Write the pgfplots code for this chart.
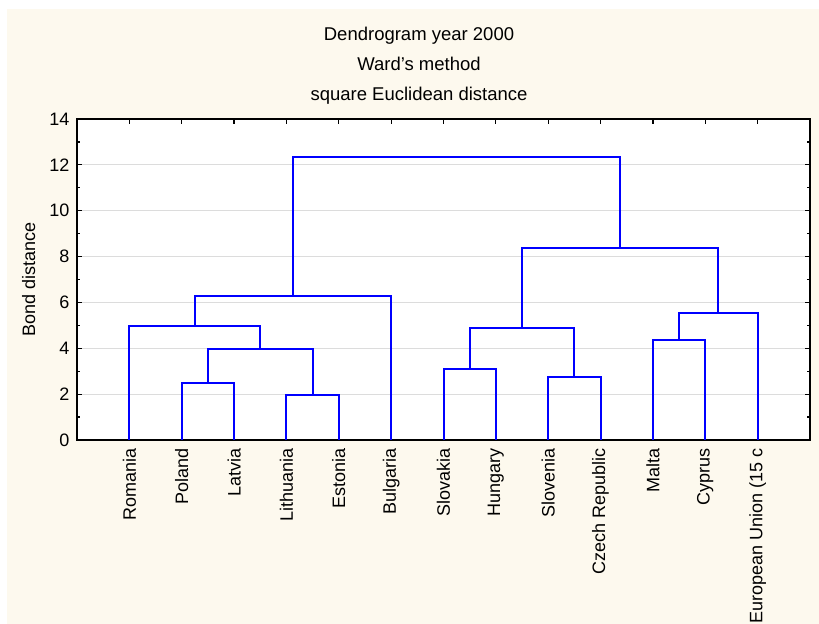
\documentclass[border=0pt]{standalone}
\usepackage{fontspec}
\setmainfont{Liberation Sans}
\usepackage{pgfplots}
\pgfplotsset{compat=1.18}

\definecolor{panel}{RGB}{253,249,238}
\definecolor{gridgray}{RGB}{220,220,220}
\definecolor{dendro}{RGB}{0,0,255}

\begin{document}
\begin{tikzpicture}[font=\fontsize{18bp}{21.6bp}\selectfont]
% cream panel behind the chart
\fill[panel] (-70bp,-184bp) rectangle (742bp,431bp);

\begin{axis}[
    at={(0,0)}, anchor=south west,
    scale only axis,
    width=733bp, height=321bp,
    xmin=0, xmax=14,
    ymin=0, ymax=14,
    axis background/.style={fill=white},
    axis line style={black, line width=1.5bp},
    xtick={1,...,13},
    xticklabels={Romania, Poland, Latvia, Lithuania, Estonia, Bulgaria,
        Slovakia, Hungary, Slovenia, Czech Republic, Malta, Cyprus,
        European Union (15 c},
    xticklabel style={rotate=90, anchor=east, inner xsep=8bp, inner ysep=0pt},
    ytick={0,2,...,14},
    minor y tick num=1,
    yticklabel style={xshift=-4bp},
    tick align=inside,
    major tick length=5bp,
    minor tick length=3bp,
    tick style={black, line width=1.2bp},
    ymajorgrids,
    grid style={gridgray, line width=1bp},
    ylabel={Bond distance},
    ylabel style={at={(axis description cs:-0.066,0.5)}, anchor=center},
    /pgf/number format/assume math mode=true,
    link/.style={dendro, line width=2bp, mark=none, solid},
]

% one U-shaped link per merge: (left x, left h) (left x, h) (right x, h) (right x, right h)
\addplot[link] coordinates {(2,0) (2,2.48) (3,2.48) (3,0)};
\addplot[link] coordinates {(4,0) (4,1.97) (5,1.97) (5,0)};
\addplot[link] coordinates {(2.5,2.48) (2.5,3.99) (4.5,3.99) (4.5,1.97)};
\addplot[link] coordinates {(1,0) (1,4.98) (3.5,4.98) (3.5,3.99)};
\addplot[link] coordinates {(2.25,4.98) (2.25,6.29) (6,6.29) (6,0)};

\addplot[link] coordinates {(7,0) (7,3.11) (8,3.11) (8,0)};
\addplot[link] coordinates {(9,0) (9,2.75) (10,2.75) (10,0)};
\addplot[link] coordinates {(7.5,3.11) (7.5,4.88) (9.5,4.88) (9.5,2.75)};
\addplot[link] coordinates {(11,0) (11,4.35) (12,4.35) (12,0)};
\addplot[link] coordinates {(11.5,4.35) (11.5,5.55) (13,5.55) (13,0)};
\addplot[link] coordinates {(8.5,4.88) (8.5,8.38) (12.25,8.38) (12.25,5.55)};

\addplot[link] coordinates {(4.125,6.29) (4.125,12.35) (10.375,12.35) (10.375,8.38)};

\end{axis}

% three-line title
\begin{scope}[font=\fontsize{18.5bp}{22bp}\selectfont]
\node[anchor=base] at (342bp,399bp) {Dendrogram year 2000};
\node[anchor=base] at (342bp,369bp) {Ward's method};
\node[anchor=base] at (342bp,339bp) {square Euclidean distance};
\end{scope}

\pgfresetboundingbox
\path[use as bounding box] (-77bp,-184bp) rectangle (742bp,440bp);
\end{tikzpicture}
\end{document}
